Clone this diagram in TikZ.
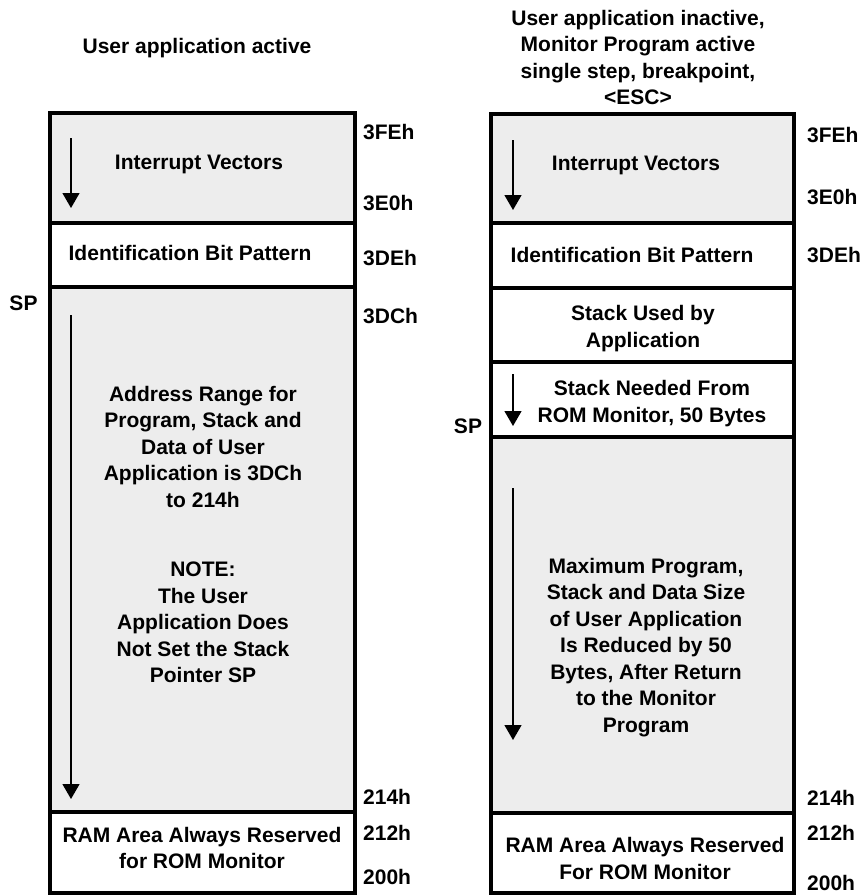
\documentclass[tikz,border=0pt]{standalone}
\usepackage{fontspec}
\setmainfont{Liberation Sans}
\usetikzlibrary{arrows.meta}
\begin{document}
\begin{tikzpicture}[x=1pt,y=-1pt,
  mem/.style={draw=black,line width=4pt},
  greymem/.style={mem,fill=gray!14},
  whitemem/.style={mem,fill=white},
  txt/.style={inner sep=0pt,align=center,font=\fontsize{21}{26.5}\selectfont\bfseries},
  addr/.style={inner sep=0pt,anchor=west,font=\fontsize{21}{26.5}\selectfont\bfseries},
  flow/.style={line width=1.3pt,-{Triangle[width=17pt,length=15pt]}}]
\useasboundingbox (0,0) rectangle (862,895);
% ---------- left column ----------
\path[greymem]  (50,113) rectangle (355,223);
\path[whitemem] (50,223) rectangle (355,287);
\path[greymem]  (50,287) rectangle (355,812);
\path[whitemem] (50,812) rectangle (355,893);
\node[txt] (lhead) at (197,48) {User application active};
\node[txt] (livec) at (199,164) {Interrupt Vectors};
\node[txt] (lid) at (190,253) {Identification Bit Pattern};
\node[txt] (lrange) at (203,446.5) {Address Range for\\Program, Stack and\\Data of User\\Application is 3DCh\\to 214h};
\node[txt] (lnote) at (203,622.5) {NOTE:\\The User\\Application Does\\Not Set the Stack\\Pointer SP};
\node[txt] (lram) at (202,848) {RAM Area Always Reserved\\for ROM Monitor};
\node[txt] (lsp) at (23.5,303) {SP};
\node[addr] (l3fe) at (363,132) {3FEh};
\node[addr] (l3e0) at (363,203) {3E0h};
\node[addr] (l3de) at (363,258) {3DEh};
\node[addr] (l3dc) at (363,316) {3DCh};
\node[addr] (l214) at (363,797) {214h};
\node[addr] (l212) at (363,833) {212h};
\node[addr] (l200) at (363,877) {200h};
\coordinate (la1) at (71,138);
\coordinate (la2) at (71,208);
\coordinate (lb1) at (71,315);
\coordinate (lb2) at (71,799);
\draw[flow] (la1) -- (la2);
\draw[flow] (lb1) -- (lb2);
% ---------- right column ----------
\path[greymem]  (491,114) rectangle (794,223);
\path[whitemem] (491,223) rectangle (794,288);
\path[whitemem] (491,288) rectangle (794,362);
\path[whitemem] (491,362) rectangle (794,437);
\path[greymem]  (491,437) rectangle (794,813);
\path[whitemem] (491,813) rectangle (794,893);
\node[txt] (rhead) at (638,57.5) {User application inactive,\\Monitor Program active\\single step, breakpoint,\\<ESC>};
\node[txt] (rivec) at (636,165) {Interrupt Vectors};
\node[txt] (rid) at (632,255) {Identification Bit Pattern};
\node[txt] (rstack) at (643,328.5) {Stack Used by\\Application};
\node[txt] (rneed) at (652,403.5) {Stack Needed From\\ROM Monitor, 50 Bytes};
\node[txt] (rmax) at (646,647.5) {Maximum Program,\\Stack and Data Size\\of User Application\\Is Reduced by 50\\Bytes, After Return\\to the Monitor\\Program};
\node[txt] (rram) at (645,858.5) {RAM Area Always Reserved\\For ROM Monitor};
\node[txt] (rsp) at (468,426) {SP};
\node[addr] (r3fe) at (807,135) {3FEh};
\node[addr] (r3e0) at (807,197) {3E0h};
\node[addr] (r3de) at (807,255) {3DEh};
\node[addr] (r214) at (807,798) {214h};
\node[addr] (r212) at (807,833) {212h};
\node[addr] (r200) at (807,883) {200h};
\coordinate (ra1) at (513,140);
\coordinate (ra2) at (513,210);
\coordinate (rb1) at (513,374);
\coordinate (rb2) at (513,426);
\coordinate (rc1) at (513,488);
\coordinate (rc2) at (513,740);
\draw[flow] (ra1) -- (ra2);
\draw[flow] (rb1) -- (rb2);
\draw[flow] (rc1) -- (rc2);
\end{tikzpicture}
\end{document}
